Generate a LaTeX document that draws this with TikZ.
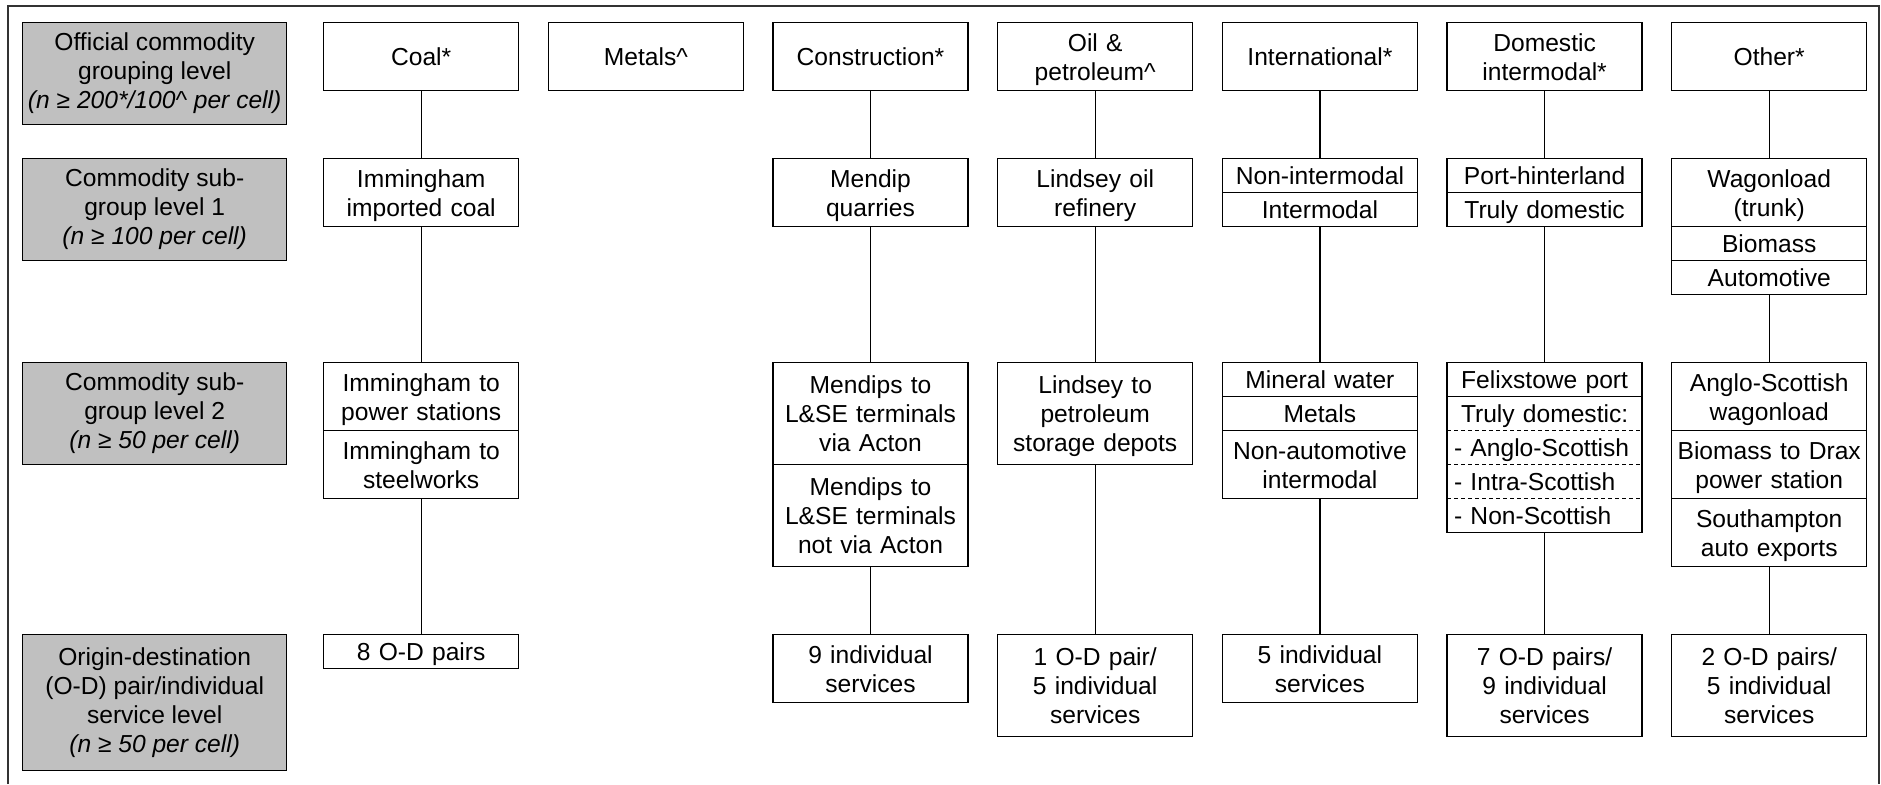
\documentclass[tikz,border=0pt]{standalone}
\usepackage{fontspec}
\setmainfont{Liberation Sans}
\definecolor{lvlgray}{RGB}{192,192,192}
\newcommand\cstrut{\rule[-2.75pt]{0pt}{14.5pt}}
\tikzset{
  base/.style={font=\fontsize{12.3pt}{14.5pt}\selectfont, inner ysep=0pt, outer sep=0pt,
    execute at begin node=\cstrut, execute at end node=\cstrut, anchor=north},
  cell/.style={base, draw=black, line width=0.65pt, fill=white, align=center,
    text width=94pt, inner xsep=1.75pt, minimum height=#1*17pt},
  cell/.default=1,
  dcell/.style={base, align=center, text width=94pt, inner xsep=1.75pt, minimum height=#1*17pt},
  dcell/.default=1,
  dlcell/.style={base, align=left, text width=90.5pt, inner xsep=3.5pt, minimum height=#1*17pt},
  dlcell/.default=1,
  lvl/.style={base, draw=black, line width=0.65pt, fill=lvlgray, align=center,
    minimum width=132pt, inner xsep=0pt, minimum height=#1*17pt},
  boxline/.style={draw=black, line width=0.65pt},
  dashline/.style={draw=black, line width=0.65pt, dash pattern=on 2pt off 1.5pt},
  conn/.style={draw=black, line width=0.6pt},
}
\begin{document}
\begin{tikzpicture}[x=0.5pt,y=-0.5pt]
\useasboundingbox (0,0) rectangle (1881,784);
\draw[line width=0.75pt, black!80] (8,784) -- (8,6) -- (1879,6) -- (1879,784);

% level labels
\node[lvl=3] (g1) at (154.7,22.6) {Official commodity\\grouping level\\\textit{(n ≥ 200*/100\textasciicircum{} per cell)}};
\node[lvl=3] (g2) at (154.7,158.6) {Commodity sub-\\group level 1\\\textit{(n ≥ 100 per cell)}};
\node[lvl=3] (g3) at (154.7,362.6) {Commodity sub-\\group level 2\\\textit{(n ≥ 50 per cell)}};
\node[lvl=4] (g4) at (154.7,634.6) {Origin-destination\\(O-D) pair/individual\\service level\\\textit{(n ≥ 50 per cell)}};

% official groups
\node[cell=2] (coal) at (421.2,22.6) {Coal*};
\node[cell=2] (metals) at (645.9,22.6) {Metals\textasciicircum};
\node[cell=2] (constr) at (870.5,22.6) {Construction*};
\node[cell=2] (oil) at (1095.2,22.6) {Oil \&\\petroleum\textasciicircum};
\node[cell=2] (intl) at (1319.9,22.6) {International*};
\node[cell=2] (dom) at (1544.6,22.6) {Domestic\\intermodal*};
\node[cell=2] (other) at (1769.2,22.6) {Other*};

% sub-group level 1
\node[cell=2] (imc) at (421.2,158.6) {Immingham\\imported coal};
\node[cell=2] (mq) at (870.5,158.6) {Mendip\\quarries};
\node[cell=2] (lor) at (1095.2,158.6) {Lindsey oil\\refinery};
\node[cell=1] (nim) at (1319.9,158.6) {Non-intermodal};
\node[cell=1] (im) at (nim.south) {Intermodal};
\node[cell=1] (ph) at (1544.6,158.6) {Port-hinterland};
\node[cell=1] (td) at (ph.south) {Truly domestic};
\node[cell=2] (wag) at (1769.2,158.6) {Wagonload\\(trunk)};
\node[cell=1] (bio) at (wag.south) {Biomass};
\node[cell=1] (auto) at (bio.south) {Automotive};

% sub-group level 2
\node[cell=2] (ips) at (421.2,362.6) {Immingham to\\power stations};
\node[cell=2] (isw) at (ips.south) {Immingham to\\steelworks};
\node[cell=3] (mva) at (870.5,362.6) {Mendips to\\L\&SE terminals\\via Acton};
\node[cell=3] (mnva) at (mva.south) {Mendips to\\L\&SE terminals\\not via Acton};
\node[cell=3] (lpd) at (1095.2,362.6) {Lindsey to\\petroleum\\storage depots};
\node[cell=1] (mw) at (1319.9,362.6) {Mineral water};
\node[cell=1] (met) at (mw.south) {Metals};
\node[cell=2] (nai) at (met.south) {Non-automotive\\intermodal};
\node[dcell=1] (fp) at (1544.6,362.6) {Felixstowe port};
\node[dcell=1] (tdc) at (fp.south) {Truly domestic:};
\node[dlcell=1] (as) at (tdc.south) {- Anglo-Scottish};
\node[dlcell=1] (is) at (as.south) {- Intra-Scottish};
\node[dlcell=1] (ns) at (is.south) {- Non-Scottish};
\draw[boxline] (fp.north west) rectangle (ns.south east);
\draw[boxline] (fp.south west) -- (fp.south east);
\draw[dashline] (tdc.south west) -- (tdc.south east);
\draw[dashline] (as.south west) -- (as.south east);
\draw[dashline] (is.south west) -- (is.south east);
\node[cell=2] (asw) at (1769.2,362.6) {Anglo-Scottish\\wagonload};
\node[cell=2] (bdx) at (asw.south) {Biomass to Drax\\power station};
\node[cell=2] (sae) at (bdx.south) {Southampton\\auto exports};

% O-D level
\node[cell=1] (od8) at (421.2,634.6) {8 O-D pairs};
\node[cell=2] (s9) at (870.5,634.6) {9 individual\\services};
\node[cell=3] (od1) at (1095.2,634.6) {1 O-D pair/\\5 individual\\services};
\node[cell=2] (s5) at (1319.9,634.6) {5 individual\\services};
\node[cell=3] (od7) at (1544.6,634.6) {7 O-D pairs/\\9 individual\\services};
\node[cell=3] (od2) at (1769.2,634.6) {2 O-D pairs/\\5 individual\\services};

% connectors
\draw[conn] (coal.south) -- (imc.north);
\draw[conn] (imc.south) -- (ips.north);
\draw[conn] (isw.south) -- (od8.north);
\draw[conn] (constr.south) -- (mq.north);
\draw[conn] (mq.south) -- (mva.north);
\draw[conn] (mnva.south) -- (s9.north);
\draw[conn] (oil.south) -- (lor.north);
\draw[conn] (lor.south) -- (lpd.north);
\draw[conn] (lpd.south) -- (od1.north);
\draw[conn] (intl.south) -- (nim.north);
\draw[conn] (im.south) -- (mw.north);
\draw[conn] (nai.south) -- (s5.north);
\draw[conn] (dom.south) -- (ph.north);
\draw[conn] (td.south) -- (fp.north);
\draw[conn] (ns.south) -- (od7.north);
\draw[conn] (other.south) -- (wag.north);
\draw[conn] (auto.south) -- (asw.north);
\draw[conn] (sae.south) -- (od2.north);
\end{tikzpicture}
\end{document}
